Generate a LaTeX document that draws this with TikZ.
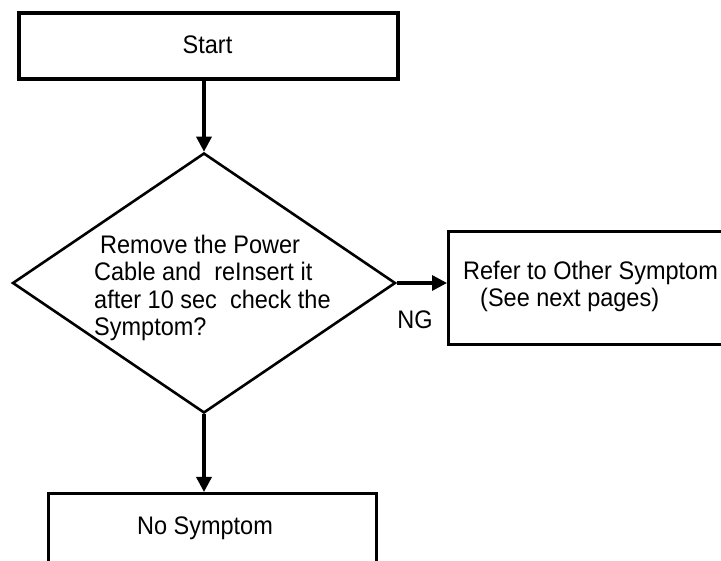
\documentclass[tikz,border=0pt]{standalone}
\usepackage{fontspec}
\usepackage{graphicx}
\setmainfont{Liberation Sans}
\usetikzlibrary{shapes.geometric,arrows.meta}
\newcommand{\tallt}[1]{\scalebox{1}[1.08]{#1}}
\begin{document}
\begin{tikzpicture}[x=1pt,y=-1pt,
  every node/.style={font=\fontsize{23.5}{27.3}\selectfont, inner sep=0pt},
  boxnode/.style={draw=black, line width=3.2pt, rectangle},
  decnode/.style={draw=black, line width=2.6pt, diamond, shape aspect=1},
  flowarrow/.style={draw=black, line width=3.3pt, -{Triangle[length=15pt,width=15pt]}}]
\useasboundingbox (0,0) rectangle (721,561);
% nodes
\node[boxnode, minimum width=379pt, minimum height=66pt] (start) at (208.5,46) {};
\node (starttext) at (207.5,45) {\tallt{Start}};
\node[decnode, minimum width=383pt, minimum height=260pt] (dec) at (204,283) {};
\node[anchor=north west, align=left] (dectext) at (94,235)
  {\tallt{\hspace*{6pt}Remove the Power}\\\tallt{Cable and\ \ reInsert it}\\\tallt{after 10 sec\ \ check the}\\\tallt{Symptom?}};
\node[boxnode, minimum width=320pt, minimum height=113pt, anchor=north west] (rbox) at (447,230) {};
\node[anchor=north west, align=left] (rtext) at (463,261)
  {\tallt{Refer to Other Symptom}\\\hspace*{17pt}\tallt{(See next pages)}};
\node (ng) at (415,320) {\tallt{NG}};
\node[boxnode, minimum width=328pt, minimum height=110pt, anchor=north west] (nobox) at (47,492) {};
\node (notext) at (205,528) {\tallt{No Symptom}};
% connectors
\draw[flowarrow] (dec.north |- start.south) -- (dec.north);
\draw[flowarrow] (dec.east) -- (dec.east -| rbox.west);
\draw[flowarrow] (dec.south) -- (dec.south |- nobox.north);
\end{tikzpicture}
\end{document}
